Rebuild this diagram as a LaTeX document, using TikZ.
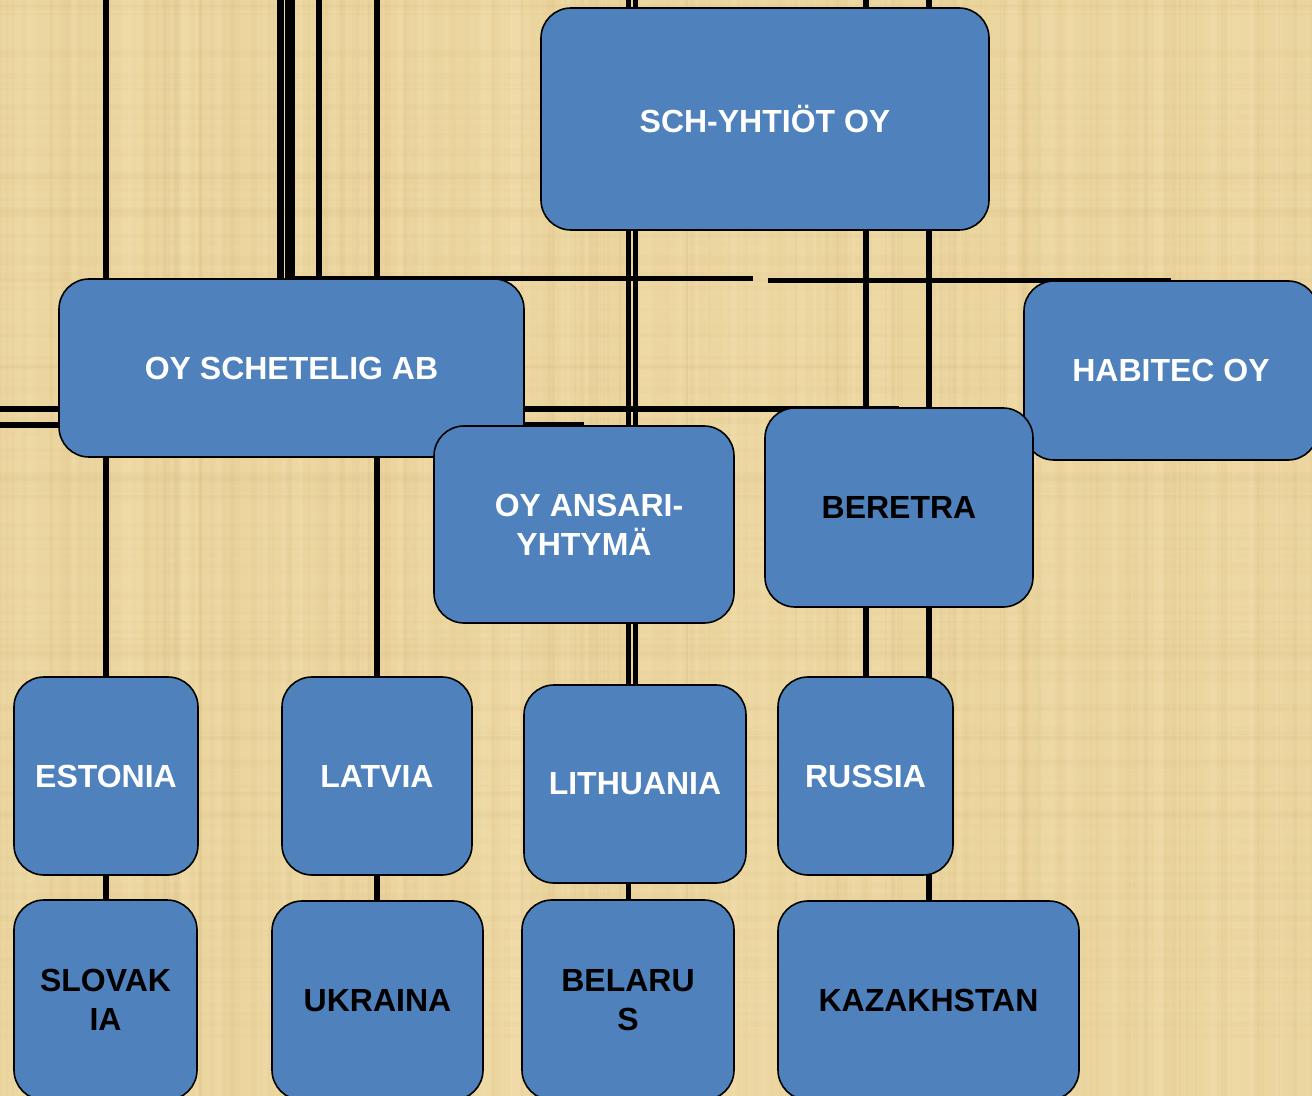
\documentclass[tikz,border=0pt]{standalone}
\usepackage{fontspec}
\setmainfont{Liberation Sans}
\pgfdeclarelayer{bg}
\pgfdeclarelayer{wires}
\pgfsetlayers{bg,wires,main}
\definecolor{paper}{RGB}{236,214,160}
\definecolor{paperdark}{RGB}{205,175,110}
\definecolor{paperlight}{RGB}{248,230,186}
\definecolor{boxblue}{RGB}{79,129,189}
\tikzset{
  org/.style={draw=black, line width=0.8pt, fill=boxblue, rounded corners=15pt,
    inner sep=0pt, align=center, text=white,
    font=\fontsize{16}{19.5}\selectfont\bfseries},
  dark/.style={text=black},
  wire/.style={line width=3pt, draw=black},
}
\begin{document}
\begin{tikzpicture}[x=0.5pt,y=-0.5pt]
\useasboundingbox (0,0) rectangle (1312,1096);
% boxes
\node[org, minimum width=224pt, minimum height=111pt] (sch) at (765,119) {SCH-YHTIÖT OY};
\node[org, minimum width=232.5pt, minimum height=89pt] (sche) at (291.5,368) {OY SCHETELIG AB};
\node[org, minimum width=147pt, minimum height=89.5pt] (hab) at (1171,370.5) {HABITEC OY};
\node[org, minimum width=150pt, minimum height=98.5pt] (ans) at (584,524.5) {\hspace*{5pt}OY ANSARI-\\YHTYMÄ};
\node[org, dark, minimum width=134pt, minimum height=99.5pt] (ber) at (899,507.5) {BERETRA};
\node[org, minimum width=92pt, minimum height=99pt] (est) at (106,776) {ESTONIA};
\node[org, minimum width=95pt, minimum height=99pt] (lat) at (377,776) {LATVIA};
\node[org, minimum width=111pt, minimum height=99pt] (lit) at (635,784) {LITHUANIA};
\node[org, minimum width=87.5pt, minimum height=99pt] (rus) at (865.5,776) {RUSSIA};
\node[org, dark, minimum width=91.5pt, minimum height=100pt] (slo) at (105.5,1000) {SLOVAK\\IA};
\node[org, dark, minimum width=105.5pt, minimum height=99.5pt] (ukr) at (377.5,1000.5) {UKRAINA};
\node[org, dark, minimum width=106pt, minimum height=100pt] (bel) at (628,1000) {BELARU\\S};
\node[org, dark, minimum width=150.5pt, minimum height=99.5pt] (kaz) at (928.5,1000.5) {KAZAKHSTAN};
% background
\begin{pgfonlayer}{bg}
\fill[paper] (0,0) rectangle (1312,1096);
\pgfmathsetseed{7}
\foreach \i in {1,...,200} {
  \pgfmathsetmacro\xx{rnd*1312}
  \pgfmathsetmacro\ww{1+rnd*6}
  \pgfmathsetmacro\oo{0.03+rnd*0.06}
  \fill[paperdark, opacity=\oo] (\xx,0) rectangle ++(\ww,1096);
}
\foreach \i in {1,...,100} {
  \pgfmathsetmacro\xx{rnd*1312}
  \pgfmathsetmacro\ww{2+rnd*10}
  \pgfmathsetmacro\oo{0.08+rnd*0.15}
  \fill[paperlight, opacity=\oo] (\xx,0) rectangle ++(\ww,1096);
}
\foreach \i in {1,...,120} {
  \pgfmathsetmacro\yy{rnd*1096}
  \pgfmathsetmacro\hh{1+rnd*6}
  \pgfmathsetmacro\oo{0.02+rnd*0.06}
  \fill[paperdark, opacity=\oo] (0,\yy) rectangle ++(1312,\hh);
}
\end{pgfonlayer}
% connectors
\begin{pgfonlayer}{wires}
\coordinate (t1) at (106,0);
\coordinate (t2) at (280.5,0);
\coordinate (t3) at (290,0);
\coordinate (t4) at (319,0);
\coordinate (t5) at (377,0);
\coordinate (t6) at (628.5,0);
\coordinate (t7) at (635.5,0);
\coordinate (t8) at (865.5,0);
\coordinate (t9) at (928.5,0);
\coordinate (h1a) at (285,278.5);
\coordinate (h1b) at (753,278.5);
\coordinate (h2a) at (768,280.5);
\coordinate (l1) at (0,409);
\coordinate (l2) at (0,425.5);
\draw[wire, line width=2.7pt] (t1) -- (t1 |- slo.north);
\draw[wire, line width=3.5pt] (t2) -- (t2 |- sche.north);
\draw[wire, line width=5pt] (t3) -- (t3 |- sche.north);
\draw[wire] (t4) -- (t4 |- sche.north);
\draw[wire] (t5) -- (t5 |- ukr.north);
\draw[wire, line width=2.7pt] (t6) -- (t6 |- bel.north);
\draw[wire, line width=2.7pt] (t7) -- (t7 |- lit.north);
\draw[wire] (t8) -- (t8 |- rus.north);
\draw[wire] (t9) -- (t9 |- kaz.north);
\draw[wire, line width=2.6pt] (h1a) -- (h1b);
\draw[wire, line width=2.6pt] (h2a) -- (h2a -| hab.north);
\draw[wire] (l1) -- (l1 -| ber.north);
\draw[wire] (l2) -- (l2 -| ans.north);
\end{pgfonlayer}
\end{tikzpicture}
\end{document}
